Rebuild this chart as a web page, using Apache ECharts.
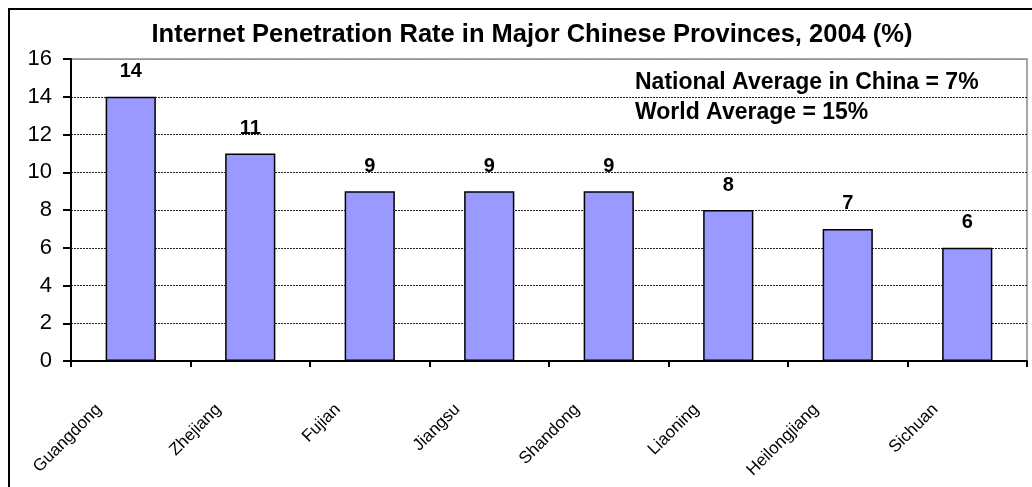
<!DOCTYPE html>
<html>
<head>
<meta charset="utf-8">
<script src="https://cdn.jsdelivr.net/npm/echarts@6/dist/echarts.min.js"></script>
<style>
  html, body { margin: 0; padding: 0; background: #fff; }
  #chart { width: 1032px; height: 487px; }
</style>
</head>
<body>
<div id="chart"></div>
<script>
const provinces = ['Guangdong', 'Zhejiang', 'Fujian', 'Jiangsu', 'Shandong', 'Liaoning', 'Heilongjiang', 'Sichuan'];
const penetration = [14, 11, 9, 9, 9, 8, 7, 6];
const yTicks = { min: 0, max: 16, interval: 2 };
const titleText = 'Internet Penetration Rate in Major Chinese Provinces, 2004 (%)';
const notes = ['National Average in China = 7%', 'World Average = 15%'];

const FONT = '"Liberation Sans", Arial, sans-serif';
const chart = echarts.init(document.getElementById('chart'), null, { renderer: 'canvas' });

const gridColors = [];
for (let v = yTicks.min; v <= yTicks.max; v += yTicks.interval) {
  gridColors.push(v === yTicks.max ? '#8c8c8c' : '#222');
}

chart.setOption({
  animation: false,
  backgroundColor: '#fff',
  title: {
    text: titleText,
    left: 527,
    textAlign: 'center',
    top: 17,
    textStyle: { fontFamily: FONT, fontSize: 25.5, fontWeight: 'bold', color: '#000' }
  },
  graphic: [
    {
      type: 'rect', z: 200, silent: true,
      shape: { x: 9, y: 9, width: 1040, height: 500 },
      style: { fill: null, stroke: '#000', lineWidth: 2 }
    },
    {
      type: 'text', z: 100, left: 635, top: 71,
      style: { text: notes[0], font: 'bold 23px ' + FONT, fill: '#000' }
    },
    {
      type: 'text', z: 100, left: 635, top: 101,
      style: { text: notes[1], font: 'bold 23px ' + FONT, fill: '#000' }
    }
  ],
  grid: {
    left: 71, right: 5, top: 59, bottom: 126,
    show: true, borderColor: '#8c8c8c', borderWidth: 1.5, backgroundColor: '#fff'
  },
  xAxis: {
    type: 'category',
    data: provinces,
    axisLine: { lineStyle: { color: '#000', width: 2 } },
    axisTick: { show: true, length: 6, lineStyle: { color: '#000', width: 2 } },
    axisLabel: {
      rotate: 45,
      margin: 14,
      padding: [0, 45, 0, 0],
      fontFamily: FONT,
      fontSize: 17,
      color: '#000',
      interval: 0
    }
  },
  yAxis: {
    type: 'value',
    min: yTicks.min, max: yTicks.max, interval: yTicks.interval,
    axisLine: { show: true, lineStyle: { color: '#000', width: 2 } },
    axisTick: { show: true, length: 8, lineStyle: { color: '#000', width: 2 } },
    axisLabel: { fontFamily: FONT, fontSize: 22, color: '#000', margin: 19 },
    splitLine: { show: true, lineStyle: { color: gridColors, width: 1, type: [2, 1] } }
  },
  series: [{
    type: 'bar',
    data: penetration,
    barWidth: '42%',
    itemStyle: { color: '#9999ff', borderColor: '#000', borderWidth: 1.5 },
    label: {
      show: true, position: 'top', distance: 15,
      fontFamily: FONT, fontSize: 20, fontWeight: 'bold', color: '#000'
    }
  }]
});
</script>
</body>
</html>
